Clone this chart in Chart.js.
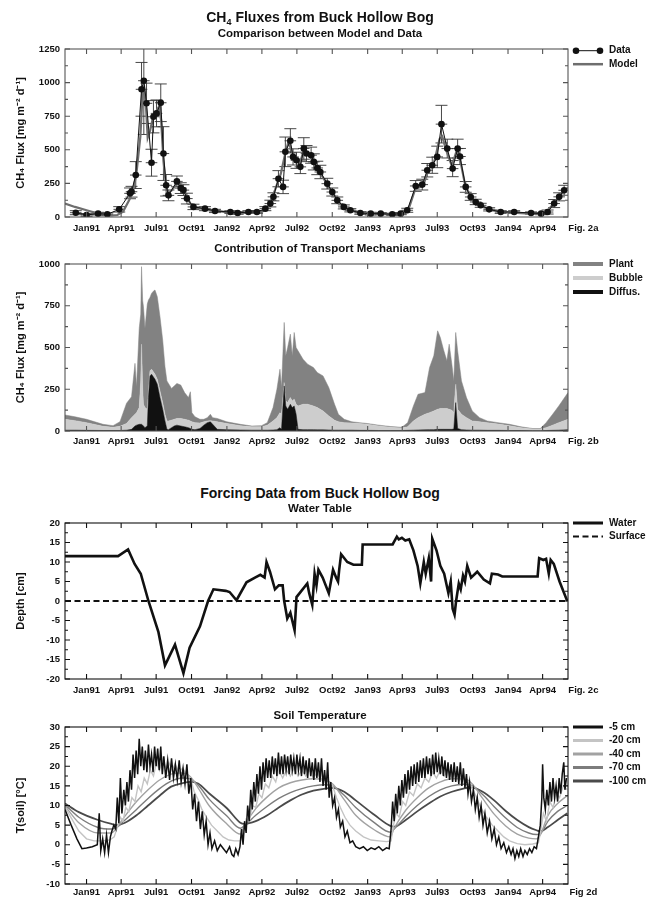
<!DOCTYPE html>
<html>
<head>
<meta charset="utf-8">
<script src="https://cdn.jsdelivr.net/npm/chart.js@4.4.1/dist/chart.umd.min.js"></script>
<style>
  body { margin: 0; background: #fff; }
  #page { position: relative; width: 655px; height: 901px; overflow: hidden;
          font-family: "Liberation Sans", Arial, sans-serif; color: #111; }
  canvas { position: absolute; left: 0; }
  .ttl { position: absolute; left: 320px; transform: translateX(-50%); white-space: nowrap;
         font-weight: bold; line-height: 1; }
  .big { font-size: 14px; }
  .small { font-size: 11.5px; }
  .ttl sub { font-size: 9px; line-height: 0; vertical-align: -3px; }
</style>
</head>
<body>
<div id="page">
  <canvas id="fluxChart" width="655" height="240" style="top:0px"></canvas>
  <canvas id="transportChart" width="655" height="210" style="top:240px"></canvas>
  <canvas id="waterChart" width="655" height="190" style="top:510px"></canvas>
  <canvas id="soilChart" width="655" height="201" style="top:700px"></canvas>

  <div class="ttl big" style="top:10px">CH<sub>4</sub> Fluxes from Buck Hollow Bog</div>
  <div class="ttl small" style="top:28px">Comparison between Model and Data</div>
  <div class="ttl small" style="top:243px">Contribution of Transport Mechaniams</div>
  <div class="ttl big" style="top:486px">Forcing Data from Buck Hollow Bog</div>
  <div class="ttl small" style="top:503px">Water Table</div>
  <div class="ttl small" style="top:710px">Soil Temperature</div>
</div>

<script>
// days are counted from 1 Jan 1991
const xMin = -56, xMax = 1252;
const tickDays = [0, 90, 181, 273, 365, 456, 547, 639, 731, 821, 912, 1004, 1096, 1186];
const tickLabels = ['Jan91', 'Apr91', 'Jul91', 'Oct91', 'Jan92', 'Apr92', 'Jul92', 'Oct92',
                    'Jan93', 'Apr93', 'Jul93', 'Oct93', 'Jan94', 'Apr94'];

// --- Fig 2a: measured fluxes (with error) and model ---
const dataDays = [-28, 0, 30, 54, 85, 113, 117, 128, 143, 149,
                  156, 169, 174, 182, 193, 200, 207, 213, 235, 245,
                  252, 261, 278, 308, 334, 374, 393, 421, 443, 465,
                  478, 486, 499, 511, 517, 530, 537, 546, 556, 565,
                  572, 584, 591, 600, 608, 626, 639, 652, 669, 686,
                  712, 739, 765, 795, 817, 834, 856, 873, 886, 899,
                  912, 923, 938, 952, 965, 971, 986, 999, 1012, 1025,
                  1047, 1077, 1112, 1156, 1182, 1199, 1216, 1229, 1242];
const dataFlux = [32, 15, 25, 20, 57, 176, 188, 312, 950, 1014,
                  846, 404, 746, 771, 850, 472, 236, 161, 265, 215,
                  200, 137, 75, 62, 45, 37, 30, 37, 37, 62,
                  100, 150, 285, 224, 485, 567, 447, 422, 373, 510,
                  472, 460, 410, 365, 335, 248, 186, 124, 75, 50,
                  30, 25, 25, 20, 25, 50, 231, 241, 348, 385,
                  447, 691, 509, 360, 509, 450, 224, 149, 112, 87,
                  57, 37, 37, 30, 25, 37, 100, 150, 199];
const dataErr = [15, 10, 10, 10, 20, 40, 40, 100, 200, 400,
                 150, 100, 120, 100, 140, 200, 80, 40, 40, 40,
                 40, 40, 20, 15, 12, 10, 10, 10, 10, 15,
                 25, 30, 60, 50, 110, 90, 60, 60, 50, 80,
                 60, 60, 60, 50, 50, 40, 30, 25, 15, 12,
                 10, 10, 8, 8, 8, 15, 40, 40, 50, 60,
                 80, 140, 70, 60, 70, 60, 40, 25, 20, 15,
                 12, 10, 10, 8, 8, 15, 30, 30, 37];
const dataSpan = 15; // half width of each sampling window, days

const modelDays = [-56, -30, 0, 30, 60, 80, 95, 110, 120, 130,
                   140, 146, 150, 155, 159, 165, 172, 180, 188, 194,
                   200, 206, 212, 222, 235, 248, 258, 270, 285, 305,
                   330, 360, 400, 440, 460, 475, 490, 505, 515, 525,
                   535, 545, 555, 565, 575, 590, 605, 620, 640, 660,
                   680, 710, 760, 800, 825, 840, 855, 875, 890, 905,
                   918, 925, 935, 950, 962, 970, 985, 1000, 1020, 1050,
                   1100, 1150, 1185, 1200, 1215, 1230, 1252];
const modelFlux = [100, 75, 50, 25, 12, 15, 40, 120, 180, 330,
                   600, 930, 960, 800, 590, 640, 730, 780, 820, 720,
                   420, 250, 180, 200, 250, 240, 170, 100, 70, 60,
                   48, 38, 30, 30, 45, 90, 200, 320, 450, 560,
                   480, 430, 400, 500, 470, 420, 340, 270, 180, 100,
                   60, 35, 25, 20, 30, 80, 210, 230, 360, 420,
                   580, 600, 500, 380, 490, 450, 230, 150, 90, 55,
                   35, 25, 25, 50, 100, 160, 220];

// --- Fig 2b: modelled flux split by transport path ---
const transportDays = [-56, -30, 0, 43, 69, 87, 104, 117, 126, 130,
                       137, 141, 143, 146, 148, 152, 158, 161, 165, 169,
                       175, 178, 184, 191, 198, 204, 209, 213, 221, 228,
                       235, 245, 255, 265, 270, 274, 282, 295, 305, 314,
                       322, 328, 340, 365, 400, 430, 455, 470, 485, 495,
                       503, 507, 514, 518, 523, 530, 535, 540, 545, 550,
                       563, 575, 590, 600, 615, 630, 645, 655, 670, 690,
                       710, 730, 760, 790, 820, 835, 850, 862, 880, 892,
                       903, 913, 920, 928, 937, 943, 950, 955, 960, 965,
                       975, 988, 1003, 1022, 1042, 1070, 1100, 1130, 1160, 1180,
                       1195, 1212, 1228, 1252];
const diffusFlux = [5, 5, 4, 3, 3, 3, 5, 10, 30, 35,
                    40, 40, 40, 35, 30, 20, 30, 200, 330, 340,
                    320, 310, 280, 200, 130, 60, 10, 8, 20, 30,
                    35, 30, 25, 20, 15, 10, 8, 15, 35, 50,
                    55, 40, 10, 8, 6, 5, 5, 5, 6, 8,
                    20, 10, 270, 150, 130, 160, 140, 150, 100, 10,
                    8, 8, 8, 7, 7, 6, 5, 5, 5, 5,
                    4, 4, 3, 3, 3, 4, 5, 6, 7, 8,
                    8, 10, 10, 10, 10, 10, 10, 12, 170, 15,
                    8, 6, 5, 5, 4, 4, 3, 3, 2, 2,
                    3, 4, 5, 8];
const bubbleFlux = [65, 57, 46, 25, 19, 25, 40, 70, 70, 75,
                    100, 260, 480, 215, 130, 120, 100, 40, 30, 30,
                    30, 30, 30, 40, 40, 40, 50, 52, 45, 40,
                    40, 45, 45, 45, 45, 45, 42, 33, 20, 10,
                    7, 20, 45, 37, 26, 20, 20, 30, 54, 72,
                    90, 90, 20, 30, 40, 40, 40, 40, 60, 140,
                    152, 152, 142, 133, 113, 84, 60, 50, 45, 43,
                    41, 36, 27, 19, 15, 21, 55, 74, 93, 102,
                    112, 120, 125, 125, 125, 120, 115, 98, 110, 115,
                    92, 74, 55, 50, 46, 38, 29, 17, 10, 10,
                    17, 31, 45, 62];
const plantFlux = [26, 23, 20, 12, 10, 28, 121, 125, 305, 155,
                   475, 400, 464, 530, 585, 475, 630, 544, 440, 454,
                   490, 504, 494, 444, 375, 285, 240, 225, 190, 200,
                   210, 200, 160, 135, 175, 55, 35, 22, 15, 20,
                   38, 20, 20, 10, 8, 5, 7, 15, 80, 170,
                   260, 160, 360, 270, 330, 380, 270, 400, 340, 330,
                   270, 240, 230, 210, 210, 170, 95, 45, 20, 7,
                   5, 5, 5, 5, 4, 25, 90, 140, 130, 270,
                   330, 470, 425, 355, 285, 390, 275, 190, 310, 350,
                   200, 120, 60, 25, 10, 8, 8, 5, 3, 3,
                   30, 65, 100, 160];

// --- Fig 2c: water table ---
const waterDays = [-56, 82, 108, 125, 141, 161, 187, 204, 230, 252,
                   268, 295, 316, 330, 362, 372, 390, 416, 438, 452,
                   463, 468, 477, 490, 500, 510, 514, 522, 530, 541,
                   546, 574, 579, 587, 593, 598, 603, 614, 630, 641,
                   649, 654, 657, 662, 678, 694, 716, 718, 796, 807,
                   812, 820, 829, 839, 850, 861, 868, 877, 882, 890,
                   896, 899, 910, 920, 930, 941, 947, 952, 957, 961,
                   968, 973, 979, 984, 990, 1000, 1016, 1033, 1049, 1054,
                   1070, 1081, 1173, 1177, 1188, 1195, 1202, 1207, 1215, 1230,
                   1250];
const waterDepth = [11.5, 11.5, 13.2, 9.5, 7, 0, -8, -16.5, -11.2, -18.5,
                    -12, -6.5, 0, 3, 2.6, 2.3, 0.2, 4.8, 6, 6.7,
                    6, 10, 7.5, 3, 4, 4, 0, -4.5, -3, -7.5,
                    1, 4.5, 2, -1, 7, 4, 8, 6, 2, 8,
                    6, 5, 8, 12, 10, 9.3, 9.3, 14.5, 14.5, 16.5,
                    15.8, 16.2, 15.5, 15.8, 13, 9, 4.5, 10, 7, 11,
                    5, 16, 13, 9, 7, 2, 5, -2, -3.5, 0,
                    4.5, 3, 6.5, 5, 9, 6, 7.5, 5.5, 4.5, 7,
                    6.8, 6.3, 6.3, 11, 10.5, 10.8, 7, 10.5, 9.5, 5,
                    0];
const surfaceDays = [xMin, xMax];
const surfaceDepth = [0, 0];

// --- Fig 2d: soil temperature ---
const soilDays = [-56, -20, 30, 65, 80, 100, 130, 160, 190, 220,
                  250, 270, 290, 320, 365, 400, 410, 440, 470, 500,
                  530, 560, 590, 620, 640, 670, 700, 750, 790, 800,
                  830, 860, 890, 920, 950, 980, 1000, 1030, 1060, 1090,
                  1120, 1150, 1170, 1180, 1200, 1225, 1250];
const temp100 = [10.5, 8.3, 6.3, 5.3, 5.0, 5.6, 7.5, 10.0, 12.5, 14.8,
                 15.7, 16.0, 15.6, 13, 9.3, 5.6, 5.3, 6.0, 7.5, 9.5,
                 11.3, 12.8, 13.8, 14.3, 14.5, 13.5, 11.3, 7.5, 4.8, 4.6,
                 6.3, 8.5, 10.5, 12.3, 13.5, 14.3, 14.6, 13.5, 11.3, 8.6,
                 6.3, 4.5, 3.7, 3.4, 4.5, 6.3, 8.0];
const temp70 = [10.2, 7, 4.4, 4.0, 4.5, 6.3, 9.0, 11.8, 14.3, 16.2,
                17, 16.8, 15.2, 11.5, 7.3, 4.2, 4.8, 7.5, 9.8, 11.8,
                13.3, 14.3, 15, 15.3, 15, 12.6, 9.5, 5.5, 3.2, 4.0,
                7.2, 10, 12.3, 14, 15, 15.4, 15.2, 12.8, 9.7, 6.8,
                4.4, 3, 2.6, 2.8, 6, 8.5, 10];
const temp40 = [9.9, 5.6, 3.0, 3.0, 4.6, 7.3, 11, 14, 16.5, 18,
                18.3, 17.3, 14.5, 9.8, 5.3, 2.7, 4.8, 9.2, 12.2, 14.5,
                15.8, 16.5, 16.8, 16.5, 15.5, 11.5, 7.5, 3.7, 2.0, 4.2,
                8.8, 12, 14.5, 16, 16.8, 16.8, 15.8, 11.8, 7.8, 4.8,
                2.7, 1.7, 1.5, 2.5, 7.5, 10.5, 12.5];

const t20Days = [-56, -35, -20, 0, 20, 40, 60, 72, 80, 88,
                 95, 102, 110, 118, 126, 134, 142, 150, 158, 166,
                 174, 182, 190, 198, 206, 214, 222, 230, 240, 250,
                 260, 270, 280, 290, 300, 312, 325, 340, 355, 370,
                 385, 400, 408, 415, 423, 431, 440, 448, 456, 465,
                 474, 483, 492, 500, 510, 520, 530, 540, 550, 560,
                 570, 580, 590, 600, 610, 620, 630, 640, 650, 660,
                 672, 685, 700, 720, 740, 760, 780, 792, 797, 805,
                 813, 822, 830, 840, 850, 860, 870, 880, 890, 900,
                 910, 920, 930, 940, 950, 960, 970, 980, 990, 1000,
                 1012, 1025, 1040, 1055, 1070, 1085, 1100, 1120, 1140, 1160,
                 1175, 1180, 1188, 1196, 1205, 1213, 1222, 1230, 1240, 1250];
const temp20 = [9.6, 6, 3.5, 1.5, 1, 1, 1.2, 2, 4.5, 7,
                6, 9.5, 8.5, 12, 11, 15, 13.5, 17, 15.5, 19,
                17.5, 21, 19, 22, 19.5, 21, 19, 20.5, 18.5, 19.5,
                18, 17, 13.5, 11.5, 9, 7, 5, 3.5, 2, 1.2,
                1, 1, 3, 6.5, 6, 10, 9.5, 13, 12, 15.5,
                14.5, 17.5, 16, 19, 17, 19, 17.5, 19.5, 17.5, 19,
                17.5, 19, 17, 18.5, 16.5, 17.5, 16, 15, 12, 9.5,
                7, 5, 3.5, 2, 1.2, 1, 0.8, 1, 4.5, 8,
                7, 11, 10, 13.5, 12.5, 15.5, 14.5, 17, 16, 18.5,
                17, 19, 17.5, 19, 17, 18.5, 16.5, 17.5, 16, 15,
                12.5, 9.5, 7, 5, 3.5, 2, 1, 0.3, 0, 0.2,
                0.5, 3, 8, 6, 11, 9.5, 13, 12, 15, 14];

const t5Days = [-56, -40, -25, -12, 0, 15, 28, 33, 37, 42,
                47, 52, 57, 62, 66, 71, 76, 80, 84, 88,
                92, 97, 101, 105, 109, 113, 117, 121, 125, 129,
                133, 137, 141, 145, 149, 153, 157, 161, 165, 169,
                173, 177, 181, 185, 189, 193, 197, 201, 206, 211,
                216, 221, 226, 231, 236, 241, 246, 251, 256, 261,
                266, 271, 276, 281, 286, 291, 296, 301, 306, 311,
                316, 321, 326, 333, 340, 348, 356, 364, 372, 378,
                383, 388, 394, 399, 403, 407, 411, 415, 419, 423,
                427, 431, 435, 439, 443, 447, 451, 455, 459, 463,
                467, 471, 475, 479, 483, 487, 491, 495, 499, 503,
                507, 511, 515, 519, 523, 527, 531, 535, 539, 543,
                547, 551, 555, 559, 563, 567, 571, 575, 579, 583,
                587, 591, 595, 599, 603, 607, 611, 615, 619, 623,
                627, 631, 635, 640, 645, 650, 655, 660, 666, 672,
                678, 685, 692, 700, 710, 720, 730, 740, 750, 760,
                770, 780, 787, 792, 796, 800, 804, 808, 812, 816,
                820, 824, 828, 832, 836, 840, 844, 848, 852, 856,
                860, 864, 868, 872, 876, 880, 884, 888, 892, 896,
                900, 904, 908, 912, 916, 920, 924, 928, 932, 936,
                940, 944, 948, 952, 956, 960, 964, 968, 972, 976,
                980, 984, 988, 992, 996, 1001, 1006, 1011, 1016, 1021,
                1026, 1031, 1036, 1042, 1048, 1054, 1060, 1066, 1072, 1078,
                1085, 1092, 1098, 1104, 1109, 1114, 1119, 1124, 1129, 1135,
                1140, 1146, 1152, 1158, 1164, 1170, 1175, 1180, 1184, 1186,
                1189, 1193, 1197, 1201, 1205, 1209, 1213, 1217, 1221, 1225,
                1229, 1233, 1237, 1241, 1244, 1248];
const temp5 = [9, 5, 1.5, -1, -0.8, -0.5, 0, 8, -1.5, 1.5,
               -2, 2.5, -2, 2, 3.5, 5, 4, 12, 5.5, 17,
               8, 14, 10, 16, 11, 19, 14, 23, 17, 24,
               18, 27, 20, 25, 19, 24, 18.5, 25.5, 20, 23,
               18.5, 25, 20, 24.5, 19, 25, 18, 22.5, 17, 21.5,
               16.5, 22, 17, 20.5, 16.5, 21.5, 16, 19.5, 15.5, 20.5,
               13, 17, 9, 13, 6, 11, 4, 8.5, 2.5, 6,
               0, 3, -1, 1, -1.5, 0, -1, -2, -0.5, -2.5,
               -3, -1, -2.5, -0.5, 4, 0, 6, 3, 10, 6,
               14, 9, 16, 11, 18, 13, 20, 14, 21, 16,
               22, 17, 21.5, 17, 22.5, 18, 22, 17.5, 23.5, 18,
               22.5, 18, 23, 19, 22.5, 18, 23, 19, 22, 18,
               23, 19, 22, 17.5, 22.5, 18, 21.5, 17, 22, 17.5,
               21, 16.5, 22, 17, 21, 16, 22, 15, 19, 14,
               21, 12, 16, 10, 12, 7, 9, 4.5, 6, 2,
               3.5, 0.5, 1, -0.5, -1, -0.5, -1.5, -0.8, -1.2, -0.5,
               -1.5, -0.8, -1, 4, 11, 6, 13, 8, 15, 10,
               16.5, 12, 18, 13, 19, 14, 20, 15, 20.5, 15.5,
               21, 16, 21.5, 17, 22, 17, 22.5, 18, 22, 17.5,
               23, 18, 23.5, 18.5, 22, 18, 22.5, 17.5, 21.5, 17,
               21, 16.5, 20.5, 16, 21, 16, 20, 15.5, 21, 15,
               19.5, 14.5, 18, 13, 16, 11, 14, 9, 12, 7,
               10, 5, 8, 3, 6, 1.5, 4, 0, 2, -1,
               0.5, -2, -0.5, -2.5, -1, -3.5, -1.5, -3, -1, -3,
               -1.5, -2.5, -1, -2, -0.5, -1, 2, 5, 12, 20.5,
               12, 9, 14, 10, 16, 11, 17, 12, 15, 11,
               17, 13, 18, 21, 14, 17];

// ------------------------------------------------------------------
const FONT = '"Liberation Sans", Arial, sans-serif';
const tickFont = { family: FONT, size: 9.5, weight: 'bold' };
const ink = '#111';

function pts(days, vals) {
    return days.map((d, i) => ({ x: d, y: vals[i] }));
}

// box with inward ticks on all four sides, plus the figure tag after the last label
const frame = {
    id: 'frame',
    afterDatasetsDraw(chart, args, o) {
        const { ctx, chartArea: a, scales: { x, y } } = chart;
        ctx.save();
        ctx.strokeStyle = o.color;
        ctx.lineWidth = o.width;
        ctx.beginPath();
        x.ticks.forEach(t => {
            const px = x.getPixelForValue(t.value);
            ctx.moveTo(px, a.bottom); ctx.lineTo(px, a.bottom - 5);
            ctx.moveTo(px, a.top); ctx.lineTo(px, a.top + 5);
        });
        y.ticks.forEach((t, i) => {
            const py = y.getPixelForValue(t.value);
            ctx.moveTo(a.left, py); ctx.lineTo(a.left + 5, py);
            ctx.moveTo(a.right, py); ctx.lineTo(a.right - 5, py);
            if (i > 0) {
                const pm = y.getPixelForValue((t.value + y.ticks[i - 1].value) / 2);
                ctx.moveTo(a.left, pm); ctx.lineTo(a.left + 3, pm);
                ctx.moveTo(a.right, pm); ctx.lineTo(a.right - 3, pm);
            }
        });
        ctx.stroke();
        ctx.strokeRect(a.left, a.top, a.right - a.left, a.bottom - a.top);

        ctx.fillStyle = ink;
        ctx.font = 'bold 9.5px ' + FONT;
        ctx.textAlign = 'center';
        ctx.textBaseline = 'middle';
        ctx.fillText(o.tag, x.getPixelForValue(o.tagAt), x.top + x.options.ticks.padding + 9.5 * 1.2 / 2);
        ctx.restore();
    }
};

// legend to the right of the plot box
const sideLegend = {
    id: 'sideLegend',
    afterDraw(chart, args, o) {
        const { ctx } = chart;
        ctx.save();
        ctx.font = 'bold 10px ' + FONT;
        ctx.textBaseline = 'middle';
        o.items.forEach((it, i) => {
            const ds = chart.data.datasets[it.ds];
            const y = o.top + i * o.gap;
            ctx.strokeStyle = it.color || ds.borderColor;
            ctx.lineWidth = it.width || ds.borderWidth;
            ctx.setLineDash(ds.borderDash || []);
            ctx.beginPath();
            ctx.moveTo(573, y); ctx.lineTo(603, y);
            ctx.stroke();
            ctx.setLineDash([]);
            if (it.dots) {
                ctx.fillStyle = ds.pointBackgroundColor;
                [576, 600].forEach(px => {
                    ctx.beginPath(); ctx.arc(px, y, ds.pointRadius, 0, Math.PI * 2); ctx.fill();
                });
            }
            ctx.fillStyle = ink;
            ctx.fillText(ds.label, 609, y);
        });
        ctx.restore();
    }
};

// vertical + horizontal error bars for the measured fluxes
const errorBars = {
    id: 'errorBars',
    beforeDatasetsDraw(chart) {
        const { ctx, chartArea: a, scales: { x, y } } = chart;
        ctx.save();
        ctx.beginPath();
        ctx.rect(a.left, a.top, a.right - a.left, a.bottom - a.top);
        ctx.clip();
        ctx.strokeStyle = '#333';
        ctx.lineWidth = 0.9;
        ctx.beginPath();
        dataDays.forEach((d, i) => {
            const px = x.getPixelForValue(d);
            const py = y.getPixelForValue(dataFlux[i]);
            const lo = y.getPixelForValue(dataFlux[i] - dataErr[i]);
            const hi = y.getPixelForValue(dataFlux[i] + dataErr[i]);
            ctx.moveTo(px, lo); ctx.lineTo(px, hi);
            ctx.moveTo(px - 6, lo); ctx.lineTo(px + 6, lo);
            ctx.moveTo(px - 6, hi); ctx.lineTo(px + 6, hi);
            ctx.moveTo(x.getPixelForValue(d - dataSpan), py);
            ctx.lineTo(x.getPixelForValue(d + dataSpan), py);
        });
        ctx.stroke();
        ctx.restore();
    }
};

function xAxis(height, pad) {
    return {
        type: 'linear', min: xMin, max: xMax,
        afterBuildTicks: s => { s.ticks = tickDays.map(v => ({ value: v })); },
        afterFit: s => { s.height = height; },
        ticks: { callback: (v, i) => tickLabels[i], autoSkip: false, maxRotation: 0,
                 font: tickFont, color: ink, padding: pad },
        grid: { display: false, drawTicks: false },
        border: { display: false }
    };
}

function yAxis(min, max, step, title, stacked) {
    return {
        type: 'linear', min: min, max: max, stacked: !!stacked,
        afterFit: s => { s.width = 65; },
        ticks: { stepSize: step, font: tickFont, color: ink, padding: 5, callback: v => String(v) },
        grid: { display: false, drawTicks: false },
        border: { display: false },
        title: { display: true, text: title, color: ink, padding: { top: 14, bottom: 0 },
                 font: { family: FONT, size: 11, weight: 'bold' } }
    };
}

function makeChart(id, datasets, cfg) {
    return new Chart(document.getElementById(id), {
        type: 'line',
        data: { datasets: datasets },
        options: {
            responsive: false,
            animation: false,
            events: [],
            layout: { padding: { top: cfg.padTop, right: 87, left: 0, bottom: 0 } },
            elements: { point: { radius: 0 }, line: { tension: 0 } },
            scales: { x: xAxis(cfg.axisH, cfg.labelPad), y: cfg.y },
            plugins: {
                legend: { display: false },
                tooltip: { enabled: false },
                frame: { color: cfg.frameColor, width: 1.1, tag: cfg.tag, tagAt: 1292 },
                sideLegend: { top: cfg.legendTop, gap: cfg.legendGap, items: cfg.legend }
            }
        },
        plugins: cfg.plugins
    });
}

// Fig 2a
makeChart('fluxChart', [
    { label: 'Data', data: pts(dataDays, dataFlux), borderColor: ink, borderWidth: 1,
      pointRadius: 3.3, pointBackgroundColor: ink, pointBorderWidth: 0 },
    { label: 'Model', data: pts(modelDays, modelFlux), borderColor: '#6e6e6e', borderWidth: 2.2 }
], {
    padTop: 49, axisH: 23, labelPad: 5.5, frameColor: '#555', tag: 'Fig. 2a',
    y: yAxis(0, 1250, 250, 'CH\u2084 Flux [mg m\u207B\u00B2 d\u207B\u00B9]'),
    legendTop: 50.7, legendGap: 13.5,
    legend: [{ ds: 0, dots: true }, { ds: 1, width: 2.5 }],
    plugins: [errorBars, frame, sideLegend]
});

// Fig 2b
makeChart('transportChart', [
    { label: 'Diffus.', data: pts(transportDays, diffusFlux), borderColor: '#111', backgroundColor: '#111',
      borderWidth: 0.5, fill: 'origin' },
    { label: 'Bubble', data: pts(transportDays, bubbleFlux), borderColor: '#cdcdcd', backgroundColor: '#cdcdcd',
      borderWidth: 0.5, fill: '-1' },
    { label: 'Plant', data: pts(transportDays, plantFlux), borderColor: '#828282', backgroundColor: '#828282',
      borderWidth: 0.5, fill: '-1' }
], {
    padTop: 24, axisH: 19, labelPad: 5, frameColor: '#555', tag: 'Fig. 2b',
    y: yAxis(0, 1000, 250, 'CH\u2084 Flux [mg m\u207B\u00B2 d\u207B\u00B9]', true),
    legendTop: 24, legendGap: 14,
    legend: [{ ds: 2, width: 4 }, { ds: 1, width: 4 }, { ds: 0, width: 4 }],
    plugins: [frame, sideLegend]
});

// Fig 2c
makeChart('waterChart', [
    { label: 'Water', data: pts(waterDays, waterDepth), borderColor: ink, borderWidth: 2.6 },
    { label: 'Surface', data: pts(surfaceDays, surfaceDepth), borderColor: ink, borderWidth: 2,
      borderDash: [6, 3.5] }
], {
    padTop: 13, axisH: 21, labelPad: 6, frameColor: '#111', tag: 'Fig. 2c',
    y: yAxis(-20, 20, 5, 'Depth [cm]'),
    legendTop: 13, legendGap: 13.5,
    legend: [{ ds: 0, width: 3 }, { ds: 1 }],
    plugins: [frame, sideLegend]
});

// Fig 2d
makeChart('soilChart', [
    { label: '-5 cm', data: pts(t5Days, temp5), borderColor: '#111', borderWidth: 1.5 },
    { label: '-20 cm', data: pts(t20Days, temp20), borderColor: '#c4c4c4', borderWidth: 1.4 },
    { label: '-40 cm', data: pts(soilDays, temp40), borderColor: '#a2a2a2', borderWidth: 1.4,
      tension: 0.4, cubicInterpolationMode: 'monotone' },
    { label: '-70 cm', data: pts(soilDays, temp70), borderColor: '#7c7c7c', borderWidth: 1.4,
      tension: 0.4, cubicInterpolationMode: 'monotone' },
    { label: '-100 cm', data: pts(soilDays, temp100), borderColor: '#4a4a4a', borderWidth: 1.8,
      tension: 0.4, cubicInterpolationMode: 'monotone' }
], {
    padTop: 27, axisH: 17, labelPad: 2.3, frameColor: '#111', tag: 'Fig 2d',
    y: yAxis(-10, 30, 5, 'T(soil) [\u00B0C]'),
    legendTop: 27, legendGap: 13.5,
    legend: [{ ds: 0, width: 3 }, { ds: 1, width: 3 }, { ds: 2, width: 3 }, { ds: 3, width: 3 }, { ds: 4, width: 3 }],
    plugins: [frame, sideLegend]
});
</script>
</body>
</html>
